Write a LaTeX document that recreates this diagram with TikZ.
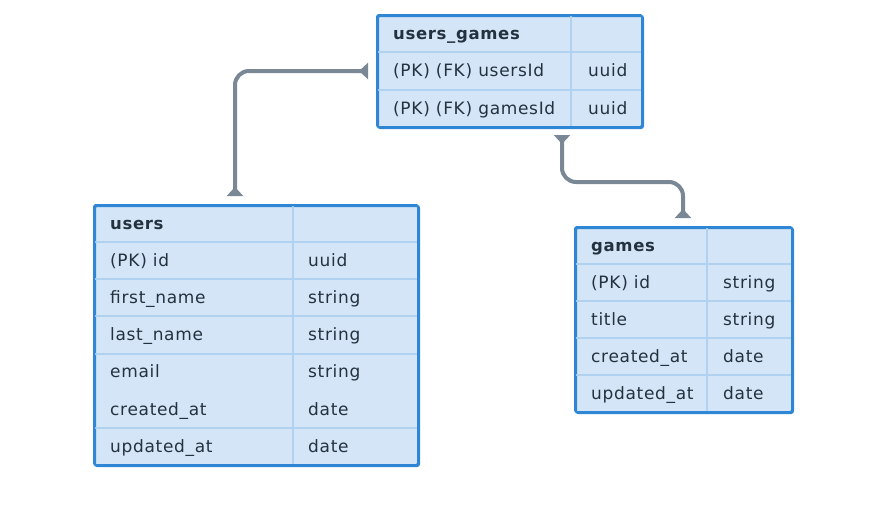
\documentclass[tikz,border=0pt]{standalone}
\usepackage{fontspec}
\usetikzlibrary{arrows.meta}
\newfontfamily\tblfont[LetterSpace=4]{DejaVu Sans}
\definecolor{tfill}{HTML}{D4E5F7}
\definecolor{tborder}{HTML}{2E86D4}
\definecolor{tgrid}{HTML}{B0D1F0}
\definecolor{conncol}{HTML}{7A8896}
\definecolor{txt}{HTML}{243240}
\tikzset{
  tbl/.style={draw=tborder, fill=tfill, line width=2pt, rounded corners=2pt, inner sep=0pt, anchor=north west},
  grid/.style={draw=tgrid, line width=1.5pt},
  cell/.style={anchor=base west, inner sep=0pt, text=txt, font=\tblfont\fontsize{17}{20}\selectfont},
  hcell/.style={cell, font=\tblfont\bfseries\fontsize{16.5}{20}\selectfont},
  conn/.style={draw=conncol, line width=4pt, rounded corners=14pt,
    {Triangle[reversed,length=9pt,width=16pt]}-{Triangle[reversed,length=9pt,width=16pt]}}
}
\begin{document}
\begin{tikzpicture}[x=1pt,y=-1pt]
\useasboundingbox (0,0) rectangle (879,509);
% users_games
\node[tbl, minimum width=265pt, minimum height=112pt] (ug) at (377,15) {};
\draw[grid] (377,52) -- (642,52) (377,90) -- (642,90) (571,15) -- (571,127);
\draw[draw=tborder, line width=2pt, rounded corners=2pt] (377,15) rectangle (642,127);
\node[hcell] (ugh) at (393,39) {users\_games};
\node[cell] (ug1) at (393,76.5) {(PK) (FK) usersId};
\node[cell] (ug1t) at (588,76.5) {uuid};
\node[cell] (ug2) at (393,114) {(PK) (FK) gamesId};
\node[cell] (ug2t) at (588,114) {uuid};
% users
\node[tbl, minimum width=324pt, minimum height=260pt] (users) at (94,205) {};
\draw[grid] (94,242) -- (418,242) (94,279) -- (418,279) (94,316) -- (418,316)
  (94,354) -- (418,354) (94,428) -- (418,428) (293,205) -- (293,465);
\draw[draw=tborder, line width=2pt, rounded corners=2pt] (94,205) rectangle (418,465);
\node[hcell] (uh) at (110,229) {users};
\node[cell] (u1) at (110,266) {(PK) id};
\node[cell] (u1t) at (308,266) {uuid};
\node[cell] (u2) at (110,303) {first\_name};
\node[cell] (u2t) at (308,303) {string};
\node[cell] (u3) at (110,340.5) {last\_name};
\node[cell] (u3t) at (308,340.5) {string};
\node[cell] (u4) at (110,377.5) {email};
\node[cell] (u4t) at (308,377.5) {string};
\node[cell] (u5) at (110,415) {created\_at};
\node[cell] (u5t) at (308,415) {date};
\node[cell] (u6) at (110,452) {updated\_at};
\node[cell] (u6t) at (308,452) {date};
% games
\node[tbl, minimum width=217pt, minimum height=185pt] (games) at (575,227) {};
\draw[grid] (575,264) -- (792,264) (575,301) -- (792,301) (575,338) -- (792,338)
  (575,375) -- (792,375) (707,227) -- (707,412);
\draw[draw=tborder, line width=2pt, rounded corners=2pt] (575,227) rectangle (792,412);
\node[hcell] (gh) at (591,251) {games};
\node[cell] (g1) at (591,288) {(PK) id};
\node[cell] (g1t) at (723,288) {string};
\node[cell] (g2) at (591,325) {title};
\node[cell] (g2t) at (723,325) {string};
\node[cell] (g3) at (591,362) {created\_at};
\node[cell] (g3t) at (723,362) {date};
\node[cell] (g4) at (591,399) {updated\_at};
\node[cell] (g4t) at (723,399) {date};
% connectors
\coordinate (c1) at (235,196);
\coordinate (c2) at (368,71);
\coordinate (c3) at (562,135);
\coordinate (c4) at (683,218);
\draw[conn] (c1) |- (c2);
\draw[conn] (c3) -- (c3 |- 0,182) -- (c4 |- 0,182) -- (c4);
\end{tikzpicture}
\end{document}
